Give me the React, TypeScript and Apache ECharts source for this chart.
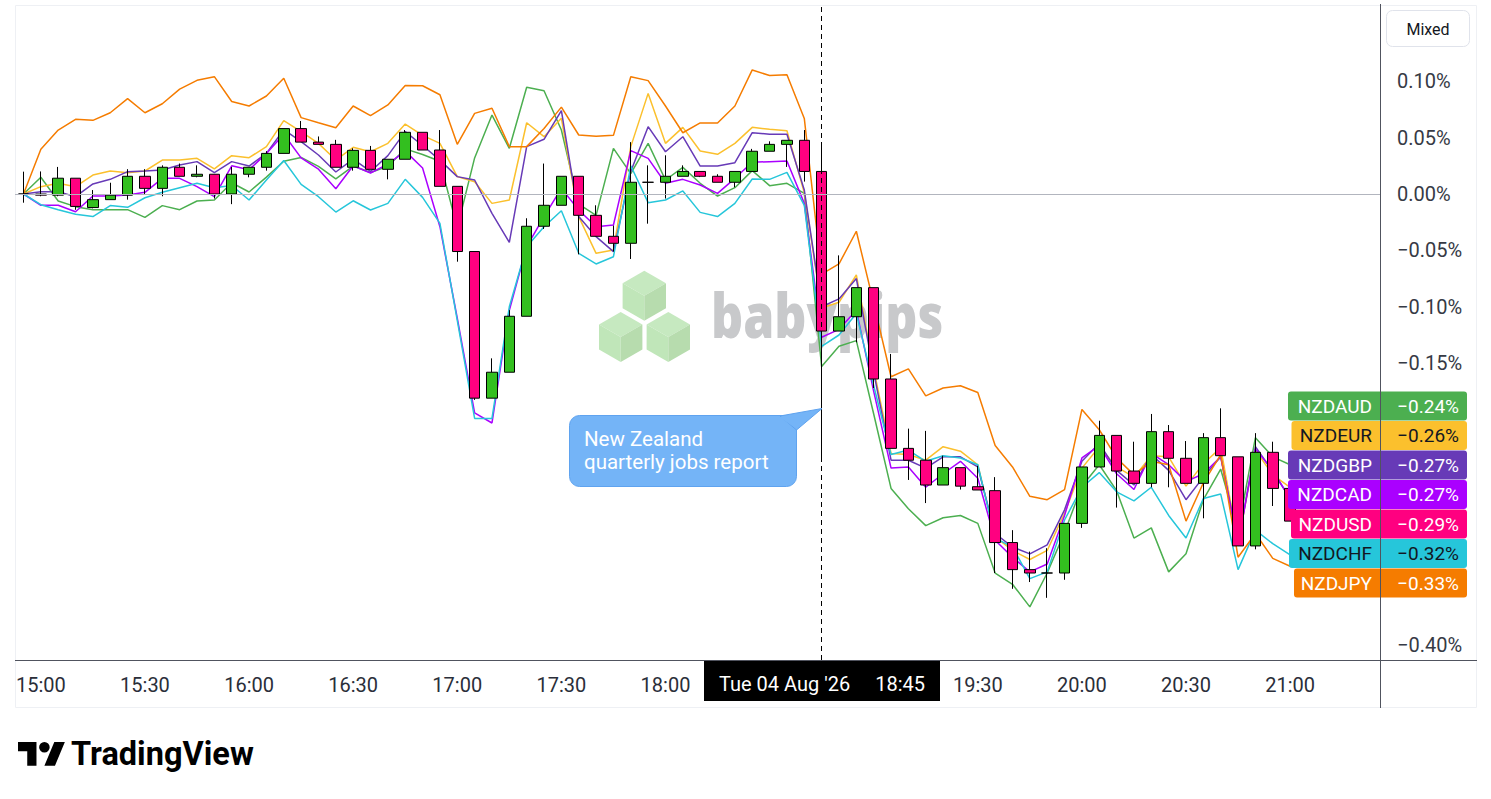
import { useEffect, useRef } from 'react';
import * as echarts from 'echarts';

// 5-minute bars, Tue 04 Aug '26
const times = [
  '14:55', '15:00', '15:05', '15:10', '15:15', '15:20', '15:25', '15:30', '15:35', '15:40',
  '15:45', '15:50', '15:55', '16:00', '16:05', '16:10', '16:15', '16:20', '16:25', '16:30',
  '16:35', '16:40', '16:45', '16:50', '16:55', '17:00', '17:05', '17:10', '17:15', '17:20',
  '17:25', '17:30', '17:35', '17:40', '17:45', '17:50', '17:55', '18:00', '18:05', '18:10',
  '18:15', '18:20', '18:25', '18:30', '18:35', '18:40', '18:45', '18:50', '18:55', '19:00',
  '19:05', '19:10', '19:15', '19:20', '19:25', '19:30', '19:35', '19:40', '19:45', '19:50',
  '19:55', '20:00', '20:05', '20:10', '20:15', '20:20', '20:25', '20:30', '20:35', '20:40',
  '20:45', '20:50', '20:55', '21:00',
];
const xTickLabels = ['15:00', '15:30', '16:00', '16:30', '17:00', '17:30', '18:00', '19:30', '20:00', '20:30', '21:00'];
const yTickValues = [0.1, 0.05, 0, -0.05, -0.1, -0.15, -0.4];
const eventTime = '18:45';

// NZDUSD candles, change in hundredths of a percent
const usdOpen = [
  0, 0, -0.1, 1.4, -1.2, -0.5, -0.1, 1.57, 0.5, 2.37,
  1.57, 1.75, 0, 1.75, 2.37, 3.6, 5.8, 4.6, 4.4, 2.37,
  3.87, 2.19, 3.08, 5.47, 3.9, 0.68, -5.1, -18.1, -15.8, -10.84,
  -2.86, -1.0, 1.57, -1.89, -3.75, -4.37, 1.04, 1.04, 1.57, 2.0,
  1.57, 1.04, 2.0, 3.79, 4.4, 4.76, 2.0, -12.15, -10.88, -8.3,
  -16.4, -22.55, -23.6, -25.8, -24.26, -25.95, -26.3, -30.9, -33.3, -33.6,
  -33.6, -29.2, -24.2, -21.4, -24.56, -25.65, -21.07, -23.43, -25.65, -21.6,
  -23.3, -31.2, -22.9, -26.1,
];
const usdClose = [
  0, -0.1, 1.4, -1.1, -0.5, -0.1, 1.57, 0.5, 2.37, 1.57,
  1.75, 0, 1.75, 2.37, 3.6, 5.8, 4.6, 4.4, 2.37, 3.87,
  2.19, 3.08, 5.47, 3.9, 0.68, -5.1, -18.1, -15.8, -10.84, -2.86,
  -1.0, 1.57, -1.89, -3.75, -4.37, 1.04, 1.04, 1.57, 2.0, 1.57,
  1.04, 2.0, 3.79, 4.4, 4.76, 2.0, -12.15, -10.88, -8.3, -16.4,
  -22.55, -23.6, -25.8, -24.26, -25.9, -26.24, -30.9, -33.3, -33.6, -33.6,
  -29.2, -24.2, -21.4, -24.56, -25.65, -21.07, -23.43, -25.65, -21.6, -23.2,
  -31.2, -22.9, -26.1, -29.0,
];
const usdLow = [
  -0.77, -0.2, -0.2, -1.4, -1.27, -0.5, -0.5, 0, -0.2, 1.57,
  1.48, -0.4, -0.9, 1.48, 2.07, 3.6, 4.6, 4.4, 2.37, 2.07,
  2.19, 1.3, 3.08, 3.9, 0.68, -6.0, -18.26, -18.1, -15.8, -10.84,
  -3.1, -1.0, -5.35, -3.75, -5.1, -5.76, -2.63, -0.4, 1.57, 1.5,
  1.04, 0.6, 2.0, 3.79, 2.4, 1.1, -23.5, -12.15, -13.15, -17.2,
  -22.55, -25.35, -27.4, -25.8, -26.2, -26.24, -33.6, -35.0, -34.4, -35.8,
  -34.2, -29.6, -24.2, -27.8, -25.65, -26.0, -26.0, -25.65, -28.75, -23.2,
  -31.2, -31.5, -27.66, -29.0,
];
const usdHigh = [
  1.98, 2.0, 2.4, 1.4, 0.35, 1.0, 2.2, 2.2, 2.54, 2.7,
  2.54, 1.75, 2.4, 2.37, 3.8, 5.8, 6.47, 5.1, 4.8, 4.05,
  4.26, 3.08, 5.67, 5.47, 5.67, 0.68, -5.1, -14.57, -10.3, -2.15,
  2.7, 1.57, 1.57, -1.0, -2.8, 4.6, 2.54, 3.43, 2.54, 2.0,
  1.75, 2.0, 4.0, 4.67, 4.76, 5.67, 4.6, -5.44, -8.3, -8.3,
  -14.18, -20.8, -21.0, -23.2, -24.26, -24.1, -25.1, -29.8, -31.7, -31.4,
  -29.2, -24.2, -20.1, -21.4, -21.96, -19.5, -20.48, -21.9, -21.2, -19.0,
  -23.3, -21.2, -21.96, -26.1,
];

// Other pairs, change in hundredths of a percent
const nzdaud = [
  0, 1.48, -0.62, -1.12, -1.39, -1.39, -1.39, -2.07, -1.03, -1.39,
  -0.62, -0.53, 1.0, 0.18, 1.5, 2.9, 3.24, 2.45, 1.35, 2.48,
  1.9, 2.45, 4.0, 3.5, 2.9, -3.0, 3.2, 7.0, 4.05, 9.46,
  9.16, 5.67, -0.9, -1.9, 4.05, 1.8, 4.49, 1.24, 2.36, 0.95,
  -0.18, 0.56, 2.07, 0.74, 0.95, 0.06, -15.3, -13.5, -13.0, -19.5,
  -26.1, -27.9, -29.4, -28.7, -28.5, -29.2, -33.6, -34.6, -36.6, -33.6,
  -30.0, -25.9, -24.0, -26.3, -30.5, -29.6, -33.5, -31.9, -27.1, -24.4,
  -29.8, -21.6, -23.3, -24.0,
];
const nzdeur = [
  0, 0.65, 0.95, 0.65, 1.68, 2.04, 1.89, 2.04, 3.01, 3.01,
  3.16, 2.22, 3.4, 3.22, 4.2, 6.5, 5.53, 4.49, 3.01, 4.14,
  3.75, 4.49, 6.2, 5.2, 4.49, 1.54, 1.09, -0.83, -0.53, 6.32,
  5.08, 6.71, -2.0, -5.26, -4.96, 4.2, 8.92, 4.49, 5.91, 3.81,
  3.52, 4.49, 5.91, 5.73, 5.61, 0.1, -10.1, -9.6, -7.18, -15.5,
  -23.0, -23.1, -23.6, -22.4, -22.8, -24.0, -30.4, -31.6, -32.4, -31.6,
  -28.3, -24.3, -22.4, -24.2, -25.1, -23.2, -23.3, -25.9, -23.9, -22.5,
  -31.0, -22.7, -24.9, -26.0,
];
const nzdgbp = [
  0, 0.21, 0.21, -0.24, 0.89, 1.3, 1.98, 2.04, 2.13, 2.57,
  2.87, 1.89, 2.87, 2.48, 3.6, 5.7, 4.64, 3.46, 1.95, 3.1,
  2.0, 3.4, 5.53, 4.3, 3.0, 1.54, 1.24, -1.71, -4.28, 4.2,
  4.85, 7.39, -2.0, -3.78, -5.11, 2.0, 5.97, 3.75, 5.08, 2.48,
  2.48, 2.78, 5.44, 5.29, 5.29, 0.35, -10.0, -9.3, -7.5, -15.8,
  -23.6, -23.6, -24.3, -23.3, -23.3, -24.2, -30.1, -31.3, -31.9, -31.1,
  -28.0, -23.7, -22.1, -24.5, -25.8, -23.1, -24.5, -27.1, -25.1, -23.3,
  -31.0, -22.4, -24.6, -27.0,
];
const nzdcad = [
  0, -1.0, -1.0, -1.57, -0.18, -0.18, -0.09, 0.15, 1.39, 1.39,
  0.65, -0.24, 2.5, 2.15, 3.6, 5.3, 3.2, 2.2, 0.47, 2.5,
  1.86, 2.65, 3.8, 2.3, -2.9, -11.0, -19.4, -20.3, -10.3, -4.67,
  -2.0, 0.5, -1.42, -2.9, -2.75, 3.85, 3.16, 0.95, 1.3, 0.8,
  0.06, 1.39, 2.81, 2.87, 2.93, -0.83, -12.7, -12.0, -10.3, -17.5,
  -24.3, -24.2, -26.0, -24.8, -23.7, -25.2, -30.7, -32.2, -33.5, -32.8,
  -28.5, -23.4, -22.3, -24.8, -26.2, -23.0, -24.0, -25.5, -24.8, -23.3,
  -31.0, -22.6, -24.5, -27.0,
];
const nzdchf = [
  0, -0.95, -1.39, -1.8, -2.0, -1.03, -1.18, -0.33, 0.15, 0.56,
  0.95, 0.56, 0.75, -0.53, 1.24, 2.97, 0.85, -0.24, -1.6, -0.6,
  -1.42, -0.83, 1.3, -0.3, -2.6, -11.2, -19.9, -19.9, -10.0, -4.67,
  -2.9, -1.48, -5.26, -6.2, -5.56, 2.5, -0.77, -0.53, 0.27, -1.63,
  -2.0, -0.83, 1.33, 1.3, 1.92, -1.0, -13.5, -12.5, -10.6, -17.0,
  -23.1, -22.7, -23.7, -23.2, -23.4, -24.0, -30.5, -31.3, -34.1, -33.5,
  -28.9, -26.0, -24.7, -26.4, -27.2, -26.0, -28.5, -30.5, -27.0, -26.6,
  -33.3, -29.8, -31.0, -32.0,
];
const nzdjpy = [
  0, 3.96, 5.67, 6.62, 6.53, 7.2, 8.45, 7.2, 8.0, 9.3,
  10.08, 10.4, 8.2, 7.8, 8.69, 10.26, 6.77, 6.32, 5.88, 7.8,
  6.94, 7.9, 9.63, 9.6, 8.8, 4.4, 7.15, 7.6, 4.2, 4.2,
  5.8, 7.7, 5.23, 5.12, 5.2, 10.4, 10.05, 7.8, 5.43, 6.3,
  6.3, 7.8, 11.0, 10.5, 10.58, 6.7, -7.1, -6.2, -3.3, -9.7,
  -16.2, -15.5, -17.9, -17.2, -17.0, -17.6, -22.3, -24.2, -26.8, -27.1,
  -26.2, -19.1, -20.9, -23.4, -24.9, -23.7, -24.0, -29.0, -25.6, -23.1,
  -32.2, -30.1, -32.3, -33.0,
];

const tagNames = ['NZDAUD', 'NZDEUR', 'NZDGBP', 'NZDCAD', 'NZDUSD', 'NZDCHF', 'NZDJPY'];
const tagValues = [-0.24, -0.26, -0.27, -0.27, -0.29, -0.32, -0.33];

const lineNames = ['NZDAUD', 'NZDEUR', 'NZDGBP', 'NZDCAD', 'NZDCHF', 'NZDJPY'];
const lineValues = [nzdaud, nzdeur, nzdgbp, nzdcad, nzdchf, nzdjpy];

const COLORS: Record<string, string> = {
  NZDAUD: '#4caf50',
  NZDEUR: '#fbc02d',
  NZDGBP: '#673ab7',
  NZDCAD: '#aa00ff',
  NZDUSD: '#ff0080',
  NZDCHF: '#26c6da',
  NZDJPY: '#f57c00',
};
const TEXT_COLORS: Record<string, string> = {
  NZDAUD: '#ffffff',
  NZDEUR: '#131722',
  NZDGBP: '#ffffff',
  NZDCAD: '#ffffff',
  NZDUSD: '#ffffff',
  NZDCHF: '#131722',
  NZDJPY: '#ffffff',
};
const tagLeft = [1288, 1291.5, 1288, 1288, 1291, 1289, 1294];

echarts.graphic.registerShape(
  'tvlogo',
  echarts.graphic.extendPath('M14 22H7V11H0V4h14v18zM28 22h-8l7.5-18h8L28 22zM24 8a4 4 0 1 1-8 0a4 4 0 1 1 8 0z', {})
);

const FONT = 'Roboto, "Noto Sans", sans-serif';
const fmtPct = (v: number) => (v < 0 ? '\u2212' : '') + Math.abs(v).toFixed(2) + '%';

function cube(cx: number, cy: number) {
  const w = 21.7, h = 12.5, t = 25;
  return [
    { type: 'polygon', z: 0, shape: { points: [[cx, cy - t], [cx + w, cy - h], [cx, cy], [cx - w, cy - h]] }, style: { fill: '#c6e9c0' } },
    { type: 'polygon', z: 0, shape: { points: [[cx - w, cy - h], [cx, cy], [cx, cy + t], [cx - w, cy + h]] }, style: { fill: '#c0e6b9' } },
    { type: 'polygon', z: 0, shape: { points: [[cx, cy], [cx + w, cy - h], [cx + w, cy + h], [cx, cy + t]] }, style: { fill: '#b7dcae' } },
  ];
}

function txt(text: string, x: number, y: number, font: string, fill: string, align = 'left', z = 100, extra: any = {}) {
  return {
    type: 'text',
    z,
    ...extra,
    style: { text, x, y, font, fill, align, textAlign: align, verticalAlign: 'middle', textVerticalAlign: 'middle' },
  };
}

export default function App() {
  const ref = useRef<HTMLDivElement>(null);

  useEffect(() => {
    if (!ref.current) return;
    const chart = echarts.init(ref.current, undefined, { renderer: 'svg' });

    const candleData = times.map((_, i) => [i, usdOpen[i] / 100, usdClose[i] / 100, usdLow[i] / 100, usdHigh[i] / 100]);
    const xTicks = xTickLabels.map((t) => times.indexOf(t));
    const eventIdx = times.indexOf(eventTime);

    const lineSeries = lineNames.map((name, k) => ({
      name,
      type: 'line',
      data: lineValues[k].map((v, i) => [i, v / 100]),
      symbol: 'none',
      z: 1,
      lineStyle: { color: COLORS[name], width: 1.5 },
      ...(k === 0
        ? {
            markLine: {
              silent: true,
              symbol: ['none', 'none'],
              label: { show: false },
              lineStyle: { color: '#b2b5be', width: 1, type: 'solid' },
              data: [{ yAxis: 0 }],
            },
          }
        : {}),
    }));

    const tagEls: any[] = [];
    tagNames.forEach((name, k) => {
      const top = 391.5 + 29.5 * k;
      tagEls.push({
        type: 'rect',
        z: 100,
        shape: { x: tagLeft[k], y: top, width: 1467 - tagLeft[k], height: 29, r: 3 },
        style: { fill: COLORS[name] },
      });
      tagEls.push(txt(name, 1372, top + 14.5, `19px ${FONT}`, TEXT_COLORS[name], 'right', 101));
      tagEls.push(txt(fmtPct(tagValues[k]), 1459, top + 14.5, `19px ${FONT}`, TEXT_COLORS[name], 'right', 101));
    });

    const option: any = {
      animation: false,
      backgroundColor: '#ffffff',
      grid: { left: 15, top: 6, width: 1365, height: 654, containLabel: false },
      xAxis: {
        type: 'value',
        min: -0.49,
        max: 78.18,
        axisLine: { show: false },
        axisTick: { show: false },
        splitLine: { show: false },
        axisLabel: {
          customValues: xTicks,
          formatter: (v: number) => times[Math.round(v)] ?? '',
          fontSize: 20,
          fontFamily: FONT,
          color: '#2a2e39',
          margin: 15,
        },
      },
      yAxis: {
        type: 'value',
        position: 'right',
        min: -0.41312,
        max: 0.16667,
        axisLine: { show: false },
        axisTick: { show: false },
        splitLine: { show: false },
        axisLabel: {
          customValues: yTickValues,
          formatter: (v: number) => fmtPct(v),
          fontSize: 20,
          fontFamily: FONT,
          color: '#363a45',
          align: 'left',
          margin: 17,
        },
      },
      series: [
        ...lineSeries,
        {
          name: 'NZDUSD',
          type: 'candlestick',
          data: candleData,
          encode: { x: 0, y: [1, 2, 3, 4] },
          barWidth: 11,
          z: 3,
          itemStyle: {
            color: '#33bf1f',
            color0: '#ff0080',
            borderColor: '#000000',
            borderColor0: '#000000',
            borderWidth: 1,
          },
          markLine: {
            silent: true,
            symbol: ['none', 'none'],
            label: { show: false },
            lineStyle: { color: '#000000', width: 1, type: [5, 4] },
            data: [{ xAxis: eventIdx }],
          },
        },
      ],
      graphic: {
        elements: [
          // frame
          { type: 'rect', z: -5, shape: { x: 15.5, y: 5.5, width: 1461, height: 702 }, style: { fill: 'none', stroke: '#eef0f4', lineWidth: 1 } },
          // watermark
          ...cube(644.3, 295.7),
          ...cube(620.7, 337),
          ...cube(668.3, 337),
          {
            type: 'text',
            z: 0,
            x: 711,
            y: 314,
            scaleY: 1.25,
            style: { text: 'babypips', x: 0, y: 0, font: `800 50px "Open Sans", ${FONT}`, fill: '#c8c9cb', verticalAlign: 'middle', textVerticalAlign: 'middle' },
          },
          // callout
          { type: 'rect', z: 50, shape: { x: 569.5, y: 415.5, width: 227, height: 71, r: 10 }, style: { fill: '#74b4f7', stroke: '#5fa3ef', lineWidth: 1 } },
          { type: 'polygon', z: 51, shape: { points: [[780, 416], [822, 408.5], [796.5, 430]] }, style: { fill: '#74b4f7', stroke: '#5fa3ef', lineWidth: 1 } },
          { type: 'polygon', z: 52, shape: { points: [[779, 417], [795.5, 417], [795.5, 428]] }, style: { fill: '#74b4f7' } },
          txt('New Zealand', 584, 439, `20.5px ${FONT}`, '#ffffff', 'left', 53),
          txt('quarterly jobs report', 584, 462, `20.5px ${FONT}`, '#ffffff', 'left', 53),
          // axis lines
          { type: 'line', z: 110, shape: { x1: 1380.5, y1: 4, x2: 1380.5, y2: 708 }, style: { stroke: '#50535e', lineWidth: 1 } },
          { type: 'line', z: 110, shape: { x1: 15, y1: 660.5, x2: 1477, y2: 660.5 }, style: { stroke: '#50535e', lineWidth: 1 } },
          // crosshair time label
          { type: 'rect', z: 120, shape: { x: 704, y: 661, width: 236, height: 40 }, style: { fill: '#000000' } },
          txt("Tue 04 Aug '26", 719, 684, `20px ${FONT}`, '#ffffff', 'left', 121),
          txt(eventTime, 925, 684, `20px ${FONT}`, '#ffffff', 'right', 121),
          // price tags
          ...tagEls,
          // Mixed button
          { type: 'rect', z: 100, shape: { x: 1386.5, y: 10.5, width: 83, height: 36, r: 6 }, style: { fill: '#ffffff', stroke: '#e0e3eb', lineWidth: 1 } },
          txt('Mixed', 1428, 29, `16px ${FONT}`, '#131722', 'center', 101),
          // TradingView logo
          { type: 'tvlogo', z: 100, x: 18, y: 736.7, scaleX: 1.32, scaleY: 1.32, style: { fill: '#000000' } },
          txt('TradingView', 71, 754, `bold 32.5px ${FONT}`, '#000000', 'left', 100),
        ],
      },
    };

    chart.setOption(option);
    return () => chart.dispose();
  }, []);

  return (
    <div
      ref={ref}
      style={{ position: 'absolute', left: 0, top: 0, width: 1491, height: 799, background: '#ffffff' }}
    />
  );
}
